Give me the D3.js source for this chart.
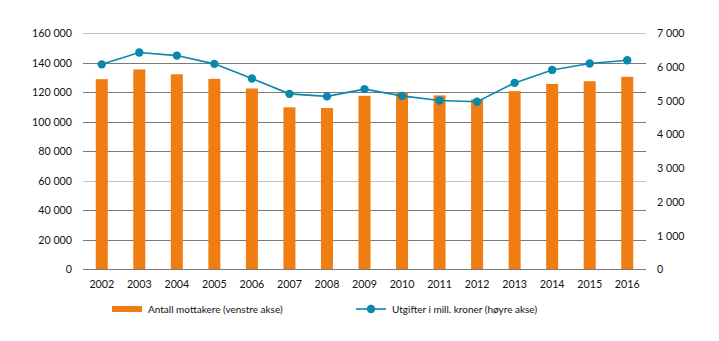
<!DOCTYPE html>
<html>
<head>
<meta charset="utf-8">
<script src="https://cdn.jsdelivr.net/npm/d3@7"></script>
<style>
  body { margin: 0; background: #fff; }
  svg text { font-family: Lato, sans-serif; font-size: 10.7px; fill: #111; }
  svg .legend text { font-size: 10px; }
</style>
</head>
<body>
<div class="chart"></div>
<script>
const years = ["2002", "2003", "2004", "2005", "2006", "2007", "2008", "2009",
  "2010", "2011", "2012", "2013", "2014", "2015", "2016"];

// Antall mottakere (venstre akse)
const recipients = [128700, 135300, 132000, 128900, 122400, 109600, 109100, 117400,
  119700, 117700, 115000, 120600, 125500, 127300, 130300];

// Utgifter i mill. kroner (høyre akse)
const expenses = [6070, 6420, 6330, 6085, 5650, 5195, 5120, 5335,
  5135, 5000, 4960, 5520, 5905, 6095, 6190];

const leftTicks = [0, 20000, 40000, 60000, 80000, 100000, 120000, 140000, 160000];
const rightTicks = [0, 1000, 2000, 3000, 4000, 5000, 6000, 7000];
const lightGrid = [60000, 160000];

const width = 719, height = 341;
const margin = { top: 33, right: 73, bottom: 72, left: 83 };

const orange = "#ef7d11";
const teal = "#0a88ab";

const fmt = v => d3.format(",")(v).replace(/,/g, " ");

const svg = d3.select(".chart").append("svg")
  .attr("width", width)
  .attr("height", height);

const x = d3.scaleBand()
  .domain(years)
  .range([margin.left, width - margin.right])
  .paddingInner(0.68)
  .paddingOuter(0.34);

const yLeft = d3.scaleLinear()
  .domain([0, 160000])
  .range([height - margin.bottom, margin.top]);

const yRight = d3.scaleLinear()
  .domain([0, 7000])
  .range([height - margin.bottom, margin.top]);

// grid lines
svg.append("g")
  .selectAll("line")
  .data(leftTicks)
  .join("line")
  .attr("x1", margin.left)
  .attr("x2", width - margin.right)
  .attr("y1", d => Math.round(yLeft(d)) + 0.5)
  .attr("y2", d => Math.round(yLeft(d)) + 0.5)
  .attr("stroke", d => lightGrid.includes(d) ? "#c4c4c4" : "#7a7a7a")
  .attr("stroke-width", 1);

// left axis
const leftAxis = svg.append("g")
  .attr("transform", `translate(${margin.left},0)`)
  .call(d3.axisLeft(yLeft).tickValues(leftTicks).tickFormat(fmt).tickSize(0).tickPadding(11));
leftAxis.select(".domain").remove();
leftAxis.selectAll("text").attr("dy", "0.35em");

// right axis
const rightAxis = svg.append("g")
  .attr("transform", `translate(${width - margin.right},0)`)
  .call(d3.axisRight(yRight).tickValues(rightTicks).tickFormat(fmt).tickSize(0).tickPadding(11));
rightAxis.select(".domain").remove();
rightAxis.selectAll("text").attr("dy", "0.35em");

// bottom axis labels
const bottomAxis = svg.append("g")
  .attr("transform", `translate(0,${height - margin.bottom})`)
  .call(d3.axisBottom(x).tickSize(0).tickPadding(11));
bottomAxis.select(".domain").remove();

// bars
svg.append("g")
  .selectAll("rect")
  .data(recipients)
  .join("rect")
  .attr("x", (d, i) => x(years[i]))
  .attr("width", x.bandwidth())
  .attr("y", d => yLeft(d))
  .attr("height", d => yLeft(0) - yLeft(d))
  .attr("fill", orange);

// line
const line = d3.line()
  .x((d, i) => x(years[i]) + x.bandwidth() / 2)
  .y(d => yRight(d));

svg.append("path")
  .datum(expenses)
  .attr("d", line)
  .attr("fill", "none")
  .attr("stroke", teal)
  .attr("stroke-width", 1.6);

svg.append("g")
  .selectAll("circle")
  .data(expenses)
  .join("circle")
  .attr("cx", (d, i) => x(years[i]) + x.bandwidth() / 2)
  .attr("cy", d => yRight(d))
  .attr("r", 4.2)
  .attr("fill", teal);

// legend
const legend = svg.append("g")
  .attr("class", "legend")
  .attr("transform", "translate(0,309)");

legend.append("rect")
  .attr("x", 112).attr("y", -3)
  .attr("width", 30).attr("height", 6)
  .attr("fill", orange);
legend.append("text")
  .attr("x", 148).attr("y", 0).attr("dy", "0.35em")
  .text("Antall mottakere (venstre akse)");

legend.append("line")
  .attr("x1", 356).attr("x2", 386)
  .attr("y1", 0).attr("y2", 0)
  .attr("stroke", teal).attr("stroke-width", 1.6);
legend.append("circle")
  .attr("cx", 371).attr("cy", 0).attr("r", 4.2)
  .attr("fill", teal);
legend.append("text")
  .attr("x", 392).attr("y", 0).attr("dy", "0.35em")
  .text("Utgifter i mill. kroner (høyre akse)");
</script>
</body>
</html>
